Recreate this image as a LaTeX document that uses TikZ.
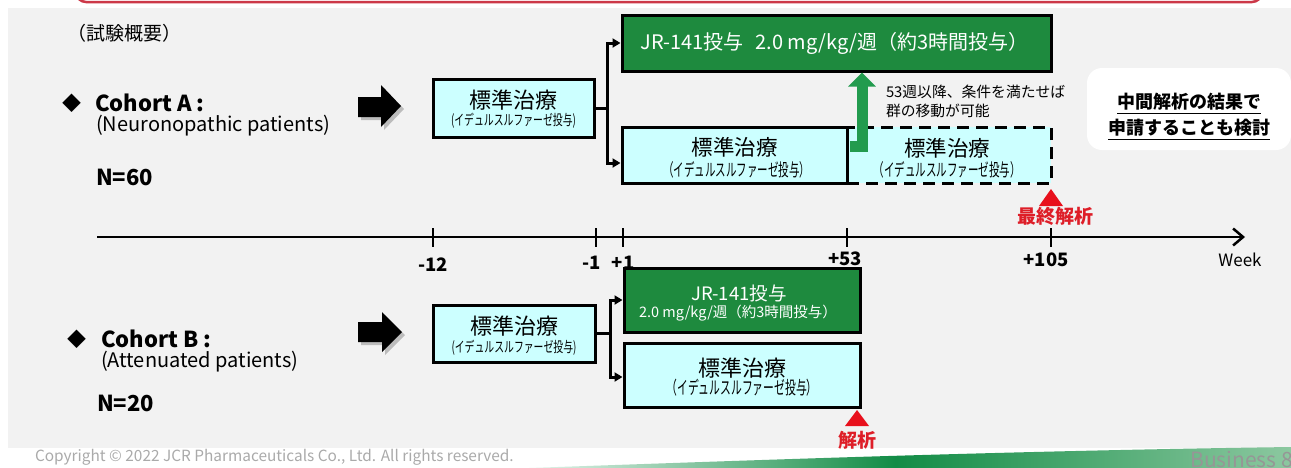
\documentclass[tikz,border=0pt]{standalone}
\usepackage{fontspec}
\usepackage{graphicx}
\setmainfont{Noto Sans CJK JP}
\usetikzlibrary{arrows.meta,calc}
\definecolor{bggray}{HTML}{F2F2F2}
\definecolor{cyanbox}{HTML}{CCFFFF}
\definecolor{jgreen}{RGB}{30,138,62}
\definecolor{agreen}{RGB}{34,155,78}
\definecolor{mred}{RGB}{232,16,28}
\definecolor{tred}{RGB}{222,30,40}
\definecolor{frred}{RGB}{204,56,72}
\definecolor{cgray}{RGB}{170,170,170}
\definecolor{bgray}{RGB}{150,150,150}
\definecolor{swgreen}{RGB}{18,140,70}
\definecolor{swlight}{RGB}{140,200,160}
\definecolor{swpale}{RGB}{245,252,248}
\newcommand{\myfs}[1]{\fontsize{#1}{#1}\selectfont}
\newcommand{\narrow}[2]{\scalebox{#1}[1]{#2}}
\begin{document}
\begin{tikzpicture}[x=1pt,y=-1pt,
  txt/.style={inner sep=0pt, outer sep=0pt},
  cbox/.style={draw=black, line width=3pt, fill=cyanbox, inner sep=0pt},
  gbox/.style={draw=black, line width=3pt, fill=jgreen, inner sep=0pt},
  dbox/.style={draw=black, line width=3pt, fill=cyanbox, inner sep=0pt, dash pattern=on 12pt off 7pt},
  brline/.style={line width=3pt},
  brarrow/.style={line width=3pt, -{Triangle[length=8pt,width=9pt]}},
  garrow/.style={draw=agreen, line width=11pt, -{Triangle[length=14pt,width=27pt]}},
  axisline/.style={line width=2.5pt, -{Straight Barb[length=10pt,width=17pt,line width=2.5pt]}},
  tickline/.style={line width=2.5pt},
  blockarrow/.style={fill=black},
  shadowarrow/.style={fill=black, opacity=0.22},
  ulin/.style={line width=1.4pt}
]
\useasboundingbox (0,0) rectangle (1291,467);
\fill[white] (0,0) rectangle (1291,467);
\fill[bggray] (8,8) rectangle (1291,448);
% top red frame
\draw[frred, line width=2.5pt, fill=white, rounded corners=10pt] (76,-40) rectangle (1262,2);
% bottom swoosh
\shade[left color=swpale, right color=swlight, middle color=swgreen]
  (500,469) .. controls (760,460) and (1000,451) .. (1291,447) -- (1291,469) -- cycle;
\node[txt, anchor=west, text=cgray] (copy) at (35,457) {\myfs{15.4}Copyright © 2022 JCR Pharmaceuticals Co., Ltd. All rights reserved.};
\node[txt, anchor=east, text=bgray] (bus) at (1293,459) {\myfs{21}Business 8};

% heading
\node[txt, anchor=west] (head) at (67,33) {\myfs{19}（試験概要）};

% Cohort A labels
\node[txt] (dmA) at (72,103) {\myfs{19}◆};
\node[txt, anchor=west] (cohA) at (95,103) {\myfs{22}\bfseries Cohort A :};
\node[txt, anchor=west] (patA) at (96,126) {\myfs{20}(Neuronopathic patients)};
\node[txt, anchor=west] (nA) at (96,177) {\myfs{22}\bfseries N=60};

% Cohort B labels
\node[txt] (dmB) at (77,339) {\myfs{19}◆};
\node[txt, anchor=west] (cohB) at (101,339) {\myfs{22}\bfseries Cohort B :};
\node[txt, anchor=west] (patB) at (101,362) {\myfs{20}(Attenuated patients)};
\node[txt, anchor=west] (nB) at (97,403) {\myfs{22}\bfseries N=20};

% block arrows
\fill[shadowarrow] (361,100) -- (384,100) -- (384,88) -- (404,109) -- (384,130) -- (384,120) -- (361,120) -- cycle;
\fill[blockarrow] (358,97) -- (381,97) -- (381,85) -- (401,106) -- (381,127) -- (381,117) -- (358,117) -- cycle;
\fill[shadowarrow] (361,325) -- (385,325) -- (385,315) -- (405,335) -- (385,355) -- (385,345) -- (361,345) -- cycle;
\fill[blockarrow] (358,322) -- (382,322) -- (382,312) -- (402,332) -- (382,352) -- (382,342) -- (358,342) -- cycle;

% Cohort A boxes
\node[cbox, minimum width=161pt, minimum height=58pt] (lA) at (513.5,108) {};
\node[gbox, minimum width=429pt, minimum height=56pt] (gA) at (836.5,43) {};
\node[dbox, minimum width=204pt, minimum height=56pt] (dA) at (949,155) {};
\node[cbox, minimum width=225pt, minimum height=56pt] (cA) at (734.5,155) {};

\node[txt] (lAt1) at ($(lA.center)+(0,-8)$) {\myfs{22}標準治療};
\node[txt] (lAt2) at ($(lA.center)+(0,13)$) {\myfs{14.5}\narrow{0.68}{(イデュルスルファーゼ投与)}};
\node[txt, text=white] (gAt) at ($(gA.center)+(-2,0)$) {\myfs{20}JR-141投与\hspace{0.6em}2.0 mg/kg/週（約3時間投与）};
\node[txt] (cAt1) at ($(cA.center)+(0,-8)$) {\myfs{21.5}標準治療};
\node[txt] (cAt2) at ($(cA.center)+(2,15)$) {\myfs{17.5}\narrow{0.6}{（イデュルスルファーゼ投与）}};
\node[txt] (dAt1) at ($(dA.center)+(-2,-7)$) {\myfs{21.5}標準治療};
\node[txt] (dAt2) at ($(dA.center)+(-2,15)$) {\myfs{17.5}\narrow{0.6}{（イデュルスルファーゼ投与）}};

\coordinate (brA) at (607,108);
\draw[brline] (lA.east) -- (brA);
\draw[brarrow] (brA) |- (gA.west);
\draw[brarrow] (brA) |- ([yshift=-8pt]cA.west);

% switching arrow
\draw[garrow] ([xshift=1.5pt,yshift=9pt]cA.east) -| ([xshift=25.5pt]gA.south);
\node[txt, anchor=west] (sw1) at (886,92) {\myfs{14.8}53週以降、条件を満たせば};
\node[txt, anchor=west] (sw2) at (886,111) {\myfs{14.8}群の移動が可能};

% note box
\node[fill=white, rounded corners=15pt, minimum width=204pt, minimum height=82pt, inner sep=0pt] (note) at (1189,109) {};
\node[txt] (nt1) at (1189,102) {\myfs{18}\bfseries 中間解析の結果で};
\node[txt] (nt2) at (1189,128) {\myfs{18}\bfseries 申請することも検討};
\draw[ulin] ([yshift=-4.5pt]nt1.base west) -- ([yshift=-4.5pt]nt1.base east);
\draw[ulin] ([yshift=-4.5pt]nt2.base west) -- ([yshift=-4.5pt]nt2.base east);

% final analysis marker
\fill[mred] (1051,189) -- (1063,206) -- (1039,206) -- cycle;
\node[txt, text=tred] (finA) at (1055,216) {\myfs{19}\bfseries 最終解析};

% axis
\coordinate (ax0) at (97,237);
\coordinate (ax1) at (1245,237);
\draw[axisline] (ax0) -- (ax1);
\foreach \xx in {433,596,623,847,1051} {\draw[tickline] (\xx,228) -- (\xx,247);}
\node[txt] (lm12) at (433,265) {\myfs{18.5}\bfseries -12};
\node[txt] (lm1) at (592,263) {\myfs{18.5}\bfseries -1};
\node[txt] (lp1) at (623,263) {\myfs{18.5}\bfseries +1};
\node[txt] (lp53) at (845,259) {\myfs{18.5}\bfseries +53};
\node[txt] (lp105) at (1046,260) {\myfs{18.5}\bfseries +105};
\node[txt] (lweek) at (1240,260) {\myfs{17}Week};

% Cohort B boxes
\node[cbox, minimum width=162pt, minimum height=57pt] (lB) at (514,333.5) {};
\node[gbox, minimum width=236pt, minimum height=64pt] (gB) at (742,300) {};
\node[cbox, minimum width=236pt, minimum height=64pt] (cB) at (742,375) {};

\node[txt] (lBt1) at ($(lB.center)+(0,-7)$) {\myfs{22}標準治療};
\node[txt] (lBt2) at ($(lB.center)+(0,14)$) {\myfs{14.5}\narrow{0.68}{(イデュルスルファーゼ投与)}};
\node[txt, text=white] (gBt1) at ($(gB.center)+(-3,-7)$) {\myfs{18.5}JR-141投与};
\node[txt, text=white] (gBt2) at ($(gB.center)+(-4,13)$) {\myfs{14.5}2.0 mg/kg/週（約3時間投与）};
\node[txt] (cBt1) at ($(cB.center)+(0,-7)$) {\myfs{22}標準治療};
\node[txt] (cBt2) at ($(cB.center)+(0,13)$) {\myfs{18}\narrow{0.6}{（イデュルスルファーゼ投与）}};

\coordinate (brB) at (610,333.5);
\draw[brline] (lB.east) -- (brB);
\draw[brarrow] (brB) |- (gB.west);
\draw[brarrow] (brB) |- ([yshift=-2pt]cB.west);

% analysis marker B
\fill[mred] (857,410) -- (869,426) -- (845,426) -- cycle;
\node[txt, text=tred] (finB) at (857,440) {\myfs{19}\bfseries 解析};
\end{tikzpicture}
\end{document}
